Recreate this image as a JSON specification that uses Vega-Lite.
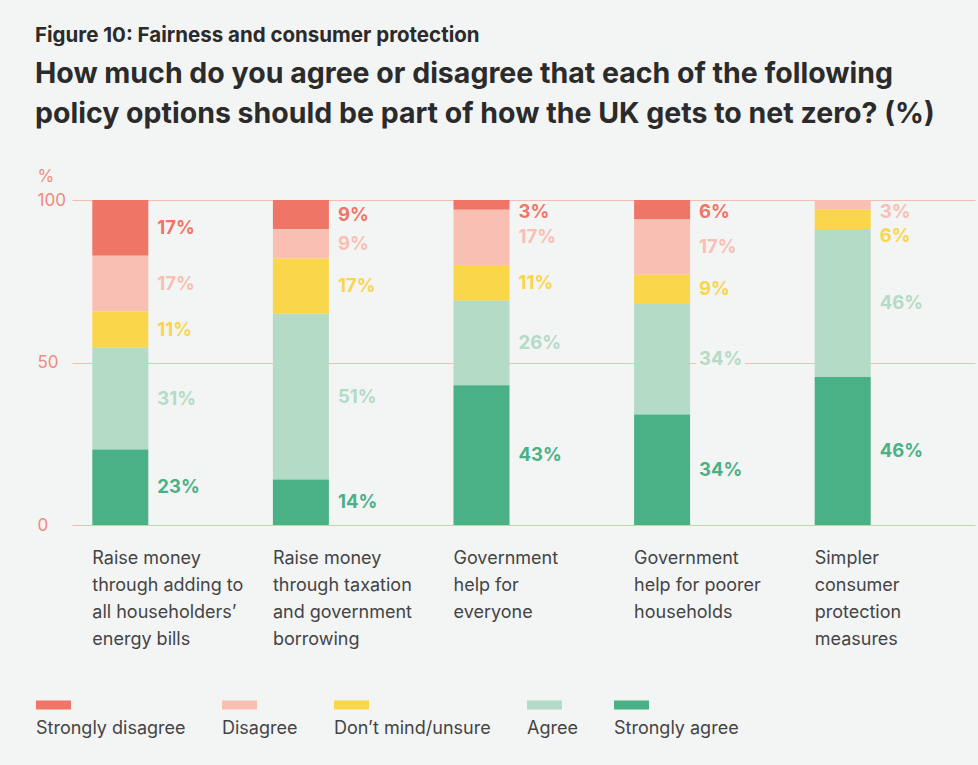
{
  "$schema": "https://vega.github.io/schema/vega-lite/v6.json",
  "autosize": {"type": "none"},
  "padding": {"left": 72, "top": 200, "right": 3, "bottom": 240},
  "width": 903,
  "height": 325,
  "background": "#f3f4f4",
  "config": {
    "view": {"stroke": null},
    "font": "Inter",
    "axis": {"labelFont": "Inter", "titleFont": "Inter"},
    "legend": {"labelFont": "Inter"}
  },
  "title": {
    "text": "Figure 10: Fairness and consumer protection",
    "subtitle": ["How much do you agree or disagree that each of the following", "policy options should be part of how the UK gets to net zero? (%)"],
    "anchor": "start",
    "frame": "group",
    "dx": -37,
    "offset": 39,
    "fontSize": 20.5,
    "fontWeight": "bold",
    "color": "#2b2b2b",
    "subtitleFontSize": 28.5,
    "subtitleFontWeight": "bold",
    "subtitleColor": "#2b2b2b",
    "subtitleLineHeight": 40,
    "subtitlePadding": 13,
    "font": "Inter",
    "subtitleFont": "Inter"
  },
  "data": {
    "values": [
      {"policy": "Raise money|through adding to|all householders’|energy bills", "response": "Strongly disagree", "value": 17},
      {"policy": "Raise money|through adding to|all householders’|energy bills", "response": "Disagree", "value": 17},
      {"policy": "Raise money|through adding to|all householders’|energy bills", "response": "Don’t mind/unsure", "value": 11},
      {"policy": "Raise money|through adding to|all householders’|energy bills", "response": "Agree", "value": 31},
      {"policy": "Raise money|through adding to|all householders’|energy bills", "response": "Strongly agree", "value": 23},
      {"policy": "Raise money|through taxation|and government|borrowing", "response": "Strongly disagree", "value": 9},
      {"policy": "Raise money|through taxation|and government|borrowing", "response": "Disagree", "value": 9},
      {"policy": "Raise money|through taxation|and government|borrowing", "response": "Don’t mind/unsure", "value": 17},
      {"policy": "Raise money|through taxation|and government|borrowing", "response": "Agree", "value": 51},
      {"policy": "Raise money|through taxation|and government|borrowing", "response": "Strongly agree", "value": 14},
      {"policy": "Government|help for|everyone", "response": "Strongly disagree", "value": 3},
      {"policy": "Government|help for|everyone", "response": "Disagree", "value": 17},
      {"policy": "Government|help for|everyone", "response": "Don’t mind/unsure", "value": 11},
      {"policy": "Government|help for|everyone", "response": "Agree", "value": 26},
      {"policy": "Government|help for|everyone", "response": "Strongly agree", "value": 43},
      {"policy": "Government|help for poorer|households", "response": "Strongly disagree", "value": 6},
      {"policy": "Government|help for poorer|households", "response": "Disagree", "value": 17},
      {"policy": "Government|help for poorer|households", "response": "Don’t mind/unsure", "value": 9},
      {"policy": "Government|help for poorer|households", "response": "Agree", "value": 34},
      {"policy": "Government|help for poorer|households", "response": "Strongly agree", "value": 34},
      {"policy": "Simpler|consumer|protection|measures", "response": "Disagree", "value": 3},
      {"policy": "Simpler|consumer|protection|measures", "response": "Don’t mind/unsure", "value": 6},
      {"policy": "Simpler|consumer|protection|measures", "response": "Agree", "value": 46},
      {"policy": "Simpler|consumer|protection|measures", "response": "Strongly agree", "value": 46}
    ]
  },
  "transform": [
    {"calculate": "indexof(['Strongly agree','Agree','Don’t mind/unsure','Disagree','Strongly disagree'], datum.response)", "as": "order"},
    {"stack": "value", "groupby": ["policy"], "sort": [{"field": "order", "order": "ascending"}], "offset": "normalize", "as": ["y0", "y1"]},
    {"window": [{"op": "row_number", "as": "k"}], "groupby": ["policy"], "sort": [{"field": "order", "order": "descending"}]},
    {"calculate": "min((datum.y0 + datum.y1) / 2, 0.963 - 0.074 * (datum.k - 1))", "as": "labelY"},
    {"calculate": "datum.value + '%'", "as": "label"}
  ],
  "encoding": {
    "x": {
      "field": "policy",
      "type": "nominal",
      "sort": null,
      "scale": {"paddingInner": 0, "paddingOuter": 0},
      "axis": {
        "title": null,
        "domain": false,
        "ticks": false,
        "labelExpr": "split(datum.value, '|')",
        "labelAngle": 0,
        "labelAlign": "left",
        "labelBaseline": "top",
        "labelOffset": -70,
        "labelPadding": 24,
        "labelLineHeight": 27,
        "labelFontSize": 18,
        "labelColor": "#444444",
        "labelLimit": 250,
        "labelOverlap": false,
        "labelFlush": false
      }
    }
  },
  "layer": [
    {
      "mark": {"type": "bar", "width": 56, "xOffset": -42},
      "encoding": {
        "y": {
          "field": "y1",
          "type": "quantitative",
          "scale": {"domain": [0, 1], "nice": false},
          "axis": {
            "values": [0, 0.5, 1],
            "labelExpr": "datum.value * 100",
            "domain": false,
            "ticks": false,
            "grid": true,
            "gridColor": "#f7bcb1",
            "gridWidth": 1.2,
            "labelAlign": "left",
            "labelBaseline": "middle",
            "labelPadding": 35,
            "labelFontSize": 17,
            "labelColor": "#f08b7e",
            "title": "%",
            "titleAngle": 0,
            "titleAlign": "left",
            "titleBaseline": "middle",
            "titleX": -35,
            "titleY": -24,
            "titleColor": "#f08b7e",
            "titleFontSize": 17,
            "titleFontWeight": "normal"
          }
        },
        "y2": {"field": "y0"},
        "color": {
          "field": "response",
          "type": "nominal",
          "scale": {
            "domain": ["Strongly disagree", "Disagree", "Don’t mind/unsure", "Agree", "Strongly agree"],
            "range": ["#ef7566", "#f8bfb2", "#f9d64a", "#b4dbc5", "#49b185"]
          },
          "legend": {
            "title": null,
            "orient": "none",
            "legendX": -40,
            "legendY": 520,
            "direction": "horizontal",
            "symbolType": "M-1,-5.7L6,-5.7L6,-3.9L-1,-3.9Z",
            "symbolSize": 100,
            "symbolStrokeWidth": 0,
            "symbolOpacity": 1,
            "labelOffset": -14,
            "columnPadding": 32,
            "labelFontSize": 18,
            "labelColor": "#444444",
            "labelLimit": 300
          }
        }
      }
    },
    {
      "mark": {
        "type": "point",
        "shape": "M-0.3,-1.1L4.6,-1.1L4.6,1.1L-0.3,1.1Z",
        "size": 400,
        "filled": true,
        "fill": "#f3f4f4",
        "opacity": 1,
        "strokeWidth": 0,
        "xOffset": -5
      },
      "encoding": {
        "y": {"field": "labelY", "type": "quantitative"}
      }
    },
    {
      "mark": {"type": "text", "align": "left", "baseline": "middle", "xOffset": -5, "fontSize": 18.5, "fontWeight": "bold"},
      "encoding": {
        "y": {"field": "labelY", "type": "quantitative"},
        "text": {"field": "label"},
        "color": {"field": "response", "type": "nominal"}
      }
    }
  ]
}
